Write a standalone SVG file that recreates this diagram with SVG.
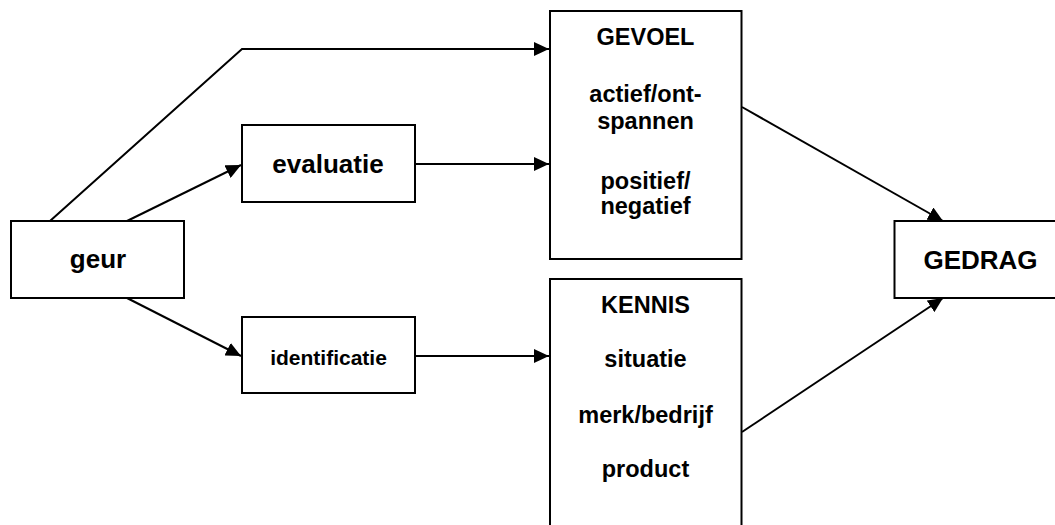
<svg xmlns="http://www.w3.org/2000/svg" width="1055" height="525" viewBox="0 0 1055 525">
<style>
.box{fill:#fff;stroke:#000;stroke-width:2}
.ln{fill:none;stroke:#000;stroke-width:2;marker-end:url(#ah)}
text{font-family:"Liberation Sans",Arial,sans-serif;font-weight:bold;fill:#000;text-anchor:middle;font-variant-ligatures:none}
.big{font-size:26px}
.mid{font-size:23.5px}
.sm{font-size:21px}
</style>
<defs>
<marker id="ah" viewBox="0 0 15 14" refX="15" refY="7" markerWidth="15" markerHeight="14" markerUnits="userSpaceOnUse" orient="auto">
<path d="M0,0 L15,7 L0,14 z" fill="#000"/>
</marker>
</defs>
<rect width="1055" height="525" fill="#fff"/>
<g id="connectors">
<polyline class="ln" points="50,221 242,49 549,49"/>
<line class="ln" x1="127" y1="221" x2="241" y2="165"/>
<line class="ln" x1="415" y1="164" x2="549" y2="164"/>
<line class="ln" x1="127" y1="298" x2="241" y2="356"/>
<line class="ln" x1="415" y1="356" x2="549" y2="356"/>
<line class="ln" x1="742" y1="107" x2="943" y2="221"/>
<line class="ln" x1="742" y1="432" x2="943" y2="298"/>
</g>
<g id="geur">
<rect class="box" x="11" y="221" width="173" height="77"/>
<text class="big" x="98" y="268">geur</text>
</g>
<g id="evaluatie">
<rect class="box" x="242" y="125" width="173" height="77"/>
<text class="big" x="328" y="172.5">evaluatie</text>
</g>
<g id="identificatie">
<rect class="box" x="242" y="317" width="173" height="76"/>
<text class="sm" x="328.5" y="365">identificatie</text>
</g>
<g id="gevoel">
<rect class="box" x="550" y="11" width="191.5" height="248"/>
<text class="mid" x="645.5" y="45">GEVOEL</text>
<text class="mid" x="645.5" y="102">actief/ont-</text>
<text class="mid" x="645.5" y="129">spannen</text>
<text class="mid" x="645.5" y="189">positief/</text>
<text class="mid" x="645.5" y="214">negatief</text>
</g>
<g id="kennis">
<rect class="box" x="550" y="279" width="191.5" height="260"/>
<text class="mid" x="645.5" y="312.5">KENNIS</text>
<text class="mid" x="645.5" y="367">situatie</text>
<text class="mid" x="645.5" y="422.5">merk/bedrijf</text>
<text class="mid" x="645.5" y="476.5">product</text>
</g>
<g id="gedrag">
<rect class="box" x="894.5" y="221" width="172" height="77"/>
<text class="big" x="980.5" y="269">GEDRAG</text>
</g>
</svg>
